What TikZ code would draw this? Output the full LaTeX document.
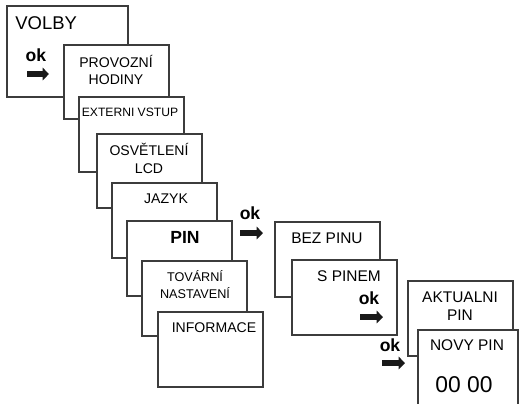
\documentclass[tikz,border=0pt]{standalone}
\usepackage{fontspec}
\setmainfont{Liberation Sans}
\usetikzlibrary{arrows.meta}
\definecolor{framegray}{RGB}{60,60,60}
\definecolor{arrowblack}{RGB}{25,25,25}
\tikzset{
  menubox/.style = {draw=framegray,line width=0.6pt,fill=white},
  lbl/.style     = {font=\fontsize{8}{10.2}\selectfont,align=center,inner sep=0pt},
  lblr/.style    = {font=\fontsize{8.8}{10.2}\selectfont,align=center,inner sep=0pt},
  oklbl/.style   = {font=\fontsize{10}{12}\selectfont\bfseries,inner sep=0pt},
  okarrow/.style = {draw=arrowblack,line width=3.8pt,
                    -{Triangle[length=3.6pt,width=7pt]}},
}

\begin{document}
\begin{tikzpicture}[x=0.02cm,y=-0.02cm]
  \clip (0,0) rectangle (519,403);
  % main menu, one card over the other
  \foreach \xa/\ya/\xb/\yb in {
    7/6/128/97, 64/45/169/119, 79/97/184/172, 97/134/202/208,
    112/183/217/258, 127/221/232/296, 142/261/247/336, 158/312/263/387}{
    \draw[menubox] (\xa,\ya) rectangle (\xb,\yb);
  }
  \node[font=\fontsize{10.5}{12}\selectfont,inner sep=0pt,anchor=west] (volby) at (15,23) {VOLBY};
  \node[oklbl] (ok1) at (36,55) {ok};
  \coordinate (a1) at (27,74);
  \draw[okarrow] (a1) -- ++(22,0);
  \node[lbl] (provozni) at (116,70) {PROVOZNÍ\\HODINY};
  \node[lbl,font=\fontsize{6.9}{9}\selectfont] (externi) at (130,112) {EXTERNI VSTUP};
  \node[lbl] (osvetleni) at (149,158) {OSVĚTLENÍ\\LCD};
  \node[lbl] (jazyk) at (166,199) {JAZYK};
  \node[lbl,font=\fontsize{10}{12}\selectfont\bfseries] (pin) at (185,237) {PIN};
  \node[lbl,font=\fontsize{7.2}{9.6}\selectfont] (tovarni) at (195,284.5) {TOVÁRNÍ\\NASTAVENÍ};
  \node[lbl] (informace) at (214,328) {INFORMACE};

  % PIN submenu
  \node[oklbl] (ok2) at (250,213) {ok};
  \coordinate (a2) at (240,233);
  \draw[okarrow] (a2) -- ++(23,0);
  \foreach \xa/\ya/\xb/\yb in {275/222/380/297, 292/260/397/335}{
    \draw[menubox] (\xa,\ya) rectangle (\xb,\yb);
  }
  \node[lblr] (bezpinu) at (327,238) {BEZ PINU};
  \node[lblr] (spinem) at (349,276) {S PINEM};
  \node[oklbl] (ok3) at (369,298) {ok};
  \coordinate (a3) at (360,317);
  \draw[okarrow] (a3) -- ++(23,0);

  % PIN entry
  \foreach \xa/\ya/\xb/\yb in {408/281/513/356, 418/330/518/410}{
    \draw[menubox] (\xa,\ya) rectangle (\xb,\yb);
  }
  \node[lblr] (aktualni) at (460,306) {AKTUALNI\\PIN};
  \node[oklbl] (ok4) at (390,345) {ok};
  \coordinate (a4) at (382,363);
  \draw[okarrow] (a4) -- ++(23,0);
  \node[lblr] (novypin) at (467,345) {NOVY PIN};
  \node[lbl,font=\fontsize{13}{15}\selectfont] (code) at (464,385) {00 00};
\end{tikzpicture}
\end{document}
